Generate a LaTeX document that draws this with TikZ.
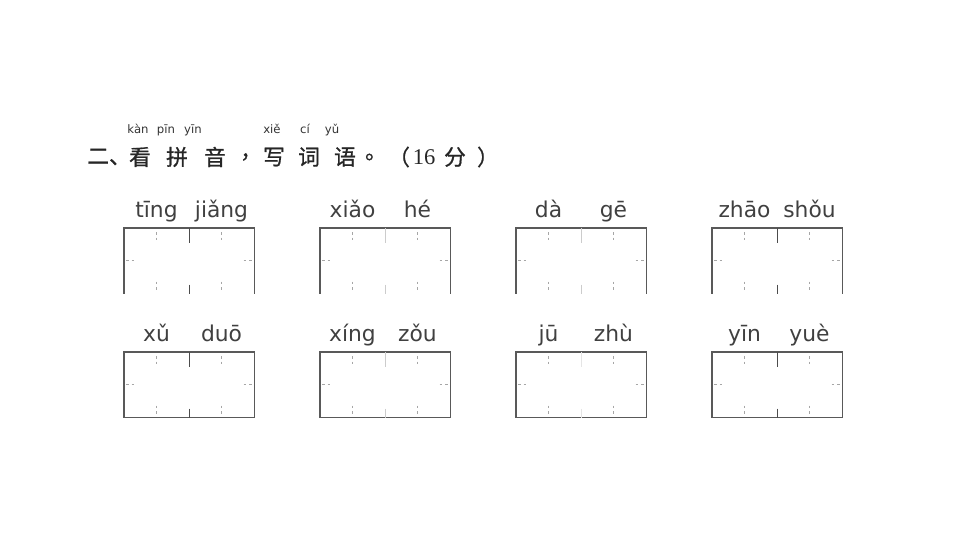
\documentclass[tikz,border=0pt]{standalone}
\usepackage{fontspec}
\setmainfont{DejaVu Sans}
\newfontfamily\cjkfont[FakeBold=0.8]{Noto Sans CJK SC}
\newfontfamily\numfont{Liberation Serif}
\usetikzlibrary{positioning, calc}

\begin{document}
\begin{tikzpicture}[
    x=0.025cm, y=-0.025cm, % one unit is one pixel, y runs down
    % Styles
    heading/.style={ % Chinese title characters
        font=\cjkfont\fontsize{15.5pt}{16pt}\selectfont,
        text=black!85,
        inner sep=0pt
    },
    pyhead/.style={ % small pinyin over the title
        font=\fontsize{8.3pt}{9pt}\selectfont,
        text=black!80,
        inner sep=0pt,
        anchor=base
    },
    pinyin/.style={ % pinyin over a writing box
        font=\fontsize{15.5pt}{16pt}\selectfont,
        text=black!75,
        inner sep=0pt,
        anchor=base
    },
    cellbox/.style={ % two-character writing box
        rectangle,
        minimum width=3.25cm,
        minimum height=1.625cm,
        inner sep=0pt,
        anchor=north west
    },
    frame/.style={
        draw=black!65,
        line width=0.75pt
    },
    guide/.style={ % faint dashed guide stubs
        draw=black!35,
        line width=0.5pt,
        dash pattern=on 2pt off 2pt
    }
]
    \useasboundingbox (0,0) rectangle (960,540);

    % Title line
    \node[heading, anchor=west] (h1) at (87,157) {二、};
    \foreach \i/\x/\c in {3/140/看, 4/177/拼, 5/215/音, 6/251/，,
                          7/274/写, 8/309/词, 9/345/语, 10/376/。, 11/399/（, 13/455/分, 14/488/）}
        \node[heading] (h\i) at (\x,157) {\c};
    \node[heading, font=\numfont\fontsize{16pt}{16pt}\selectfont] (h12) at (424,157) {16};

    % Pinyin over the title
    \foreach \i/\x/\p in {1/138/kàn, 2/166/pīn, 3/193/yīn, 4/272/xiě, 5/305/cí, 6/332/yǔ}
        \node[pyhead] (t\i) at (\x,133) {\p};

    % Writing boxes: number / left / top / first / second / divider colour
    \foreach \i/\x/\y/\a/\b/\c in {
            1/124/228/tīng/jiǎng/black!70,
            2/320/228/xiǎo/hé/black!20,
            3/516/228/dà/gē/black!20,
            4/712/228/zhāo/shǒu/black!70,
            5/124/352/xǔ/duō/black!70,
            6/320/352/xíng/zǒu/black!20,
            7/516/352/jū/zhù/black!10,
            8/712/352/yīn/yuè/black!70}{
        \node[cellbox] (b\i) at (\x,\y) {};
        % outer lines (the first row has no bottom edge)
        \draw[frame] (b\i.south west) -- (b\i.north west) -- (b\i.north east) -- (b\i.south east);
        \ifnum\y>300
            \draw[frame] (b\i.south west) -- (b\i.south east);
        \fi
        % middle divider, only its ends show
        \draw[frame, draw=\c] (b\i.north) -- ($(b\i.north)+(0,15)$);
        \draw[frame, draw=\c] ($(b\i.south)+(0,-9)$) -- (b\i.south);
        % guide stubs
        \draw[guide] ($(b\i.north west)+(32.5,4)$) -- +(0,9);
        \draw[guide] ($(b\i.north west)+(97.5,4)$) -- +(0,9);
        \draw[guide] ($(b\i.south west)+(32.5,-12)$) -- +(0,9);
        \draw[guide] ($(b\i.south west)+(97.5,-12)$) -- +(0,9);
        \draw[guide] ($(b\i.west)+(2,0)$) -- +(9,0);
        \draw[guide] ($(b\i.east)+(-11,0)$) -- +(9,0);
        % pinyin over each half
        \node[pinyin] (p\i a) at ($(b\i.north west)+(32.5,-11)$) {\a};
        \node[pinyin] (p\i b) at ($(b\i.north west)+(97.5,-11)$) {\b};
    }
\end{tikzpicture}
\end{document}
